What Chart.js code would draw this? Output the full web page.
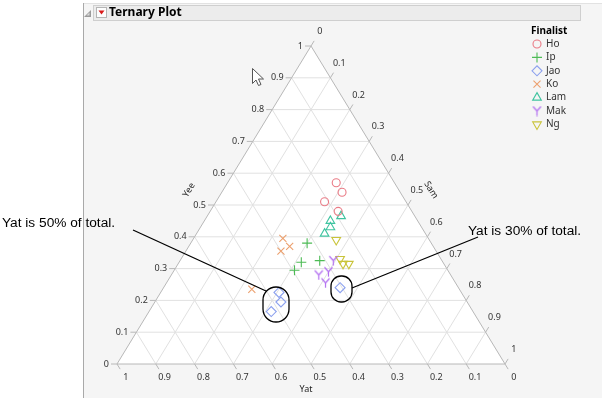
<!DOCTYPE html>
<html>
<head>
<meta charset="utf-8">
<script src="https://cdn.jsdelivr.net/npm/chart.js@4.4.1/dist/chart.umd.min.js"></script>
<style>
body{margin:0;background:#fff}
canvas{display:block}
</style>
</head>
<body>
<canvas id="ternary" width="602" height="398"></canvas>
<script>
// finalists and their marker colours
const finalists = ["Ho","Ip","Jao","Ko","Lam","Mak","Ng"];
const colors = ["#ea7b86","#4dbb55","#8ba0ee","#eca06e","#3fc4a0","#b26ef0","#c9c43a"];

// one row per judge score: who, and the Yee / Sam / Yat shares
const who = [
 "Ho","Ho","Ho","Ho",
 "Ip","Ip","Ip","Ip",
 "Jao","Jao","Jao","Jao",
 "Ko","Ko","Ko","Ko",
 "Lam","Lam","Lam","Lam",
 "Mak","Mak","Mak","Mak",
 "Ng","Ng","Ng","Ng"
];
const yeeVals = [0.57,0.54,0.51,0.48, 0.38,0.32,0.325,0.295, 0.225,0.195,0.165,0.24, 0.395,0.37,0.355,0.235, 0.465,0.45,0.43,0.41, 0.325,0.28,0.29,0.255, 0.39,0.33,0.315,0.315];
const samVals = [0.28,0.31,0.28,0.33, 0.30,0.315,0.36,0.31, 0.305,0.325,0.315,0.455, 0.23,0.26,0.245,0.23, 0.345,0.325,0.335,0.33, 0.395,0.38,0.40,0.41, 0.37,0.41,0.425,0.44];
const yatVals = [0.15,0.15,0.21,0.19, 0.32,0.365,0.315,0.395, 0.47,0.48,0.52,0.305, 0.375,0.37,0.40,0.535, 0.19,0.225,0.235,0.26, 0.28,0.34,0.31,0.335, 0.24,0.26,0.26,0.245];

const tickLabels = ["0","0.1","0.2","0.3","0.4","0.5","0.6","0.7","0.8","0.9","1"];

// ternary -> plane: x runs along base, y is Yee
function toXY(a, b, c){
  const s = a + b + c;
  return {x: (b + a/2)/s, y: a/s};
}

// Mak uses a "Y" marker
function makeY(color){
  const c = document.createElement("canvas");
  c.width = 11; c.height = 11;
  const g = c.getContext("2d");
  g.strokeStyle = color; g.lineWidth = 1.2;
  g.beginPath();
  g.moveTo(1.5,1); g.lineTo(5.5,5.5); g.lineTo(9.5,1);
  g.moveTo(5.5,5.5); g.lineTo(5.5,10.5);
  g.stroke();
  return c;
}

const styles = {
  Ho: {pointStyle:"circle", radius:4, rotation:0},
  Ip: {pointStyle:"cross", radius:5, rotation:0},
  Jao:{pointStyle:"rectRot", radius:5, rotation:0},
  Ko: {pointStyle:"crossRot", radius:5, rotation:0},
  Lam:{pointStyle:"triangle", radius:5, rotation:0},
  Mak:{pointStyle:makeY(colors[5]), radius:5, rotation:0},
  Ng: {pointStyle:"triangle", radius:5, rotation:180}
};

const datasets = finalists.map(function(f, k){
  const pts = [];
  for(let i=0;i<who.length;i++){
    if(who[i] === f) pts.push(toXY(yeeVals[i], samVals[i], yatVals[i]));
  }
  return {
    label: f,
    data: pts,
    borderColor: colors[k],
    backgroundColor: "rgba(0,0,0,0)",
    borderWidth: 1.1,
    pointStyle: styles[f].pointStyle,
    pointRadius: styles[f].radius,
    pointRotation: styles[f].rotation,
    pointHoverRadius: styles[f].radius
  };
});

const FONT = '"Noto Sans", "DejaVu Sans", sans-serif';

const ternaryFrame = {
  id: "ternaryFrame",
  beforeDraw(chart){
    const ctx = chart.ctx;
    const xs = chart.scales.x, ys = chart.scales.y;
    function P(a, b){ return [xs.getPixelForValue(b + a/2), ys.getPixelForValue(a)]; }

    ctx.save();
    // panel
    ctx.fillStyle = "#fff";
    ctx.fillRect(0,0,602,398);
    ctx.fillStyle = "#f5f5f5";
    ctx.fillRect(84,3,518,395);
    ctx.strokeStyle = "#a9a9a9"; ctx.lineWidth = 1;
    ctx.beginPath(); ctx.moveTo(83.5,3); ctx.lineTo(83.5,398); ctx.stroke();
    ctx.strokeStyle = "#e2e2e2";
    ctx.beginPath(); ctx.moveTo(84,3.5); ctx.lineTo(602,3.5); ctx.stroke();

    // header
    ctx.fillStyle = "#ececec";
    ctx.fillRect(93,5,488,16);
    ctx.strokeStyle = "#cfcfcf";
    ctx.strokeRect(93.5,5.5,487,15);
    ctx.fillStyle = "#9a9a9a";
    ctx.beginPath(); ctx.moveTo(91,10); ctx.lineTo(91,17); ctx.lineTo(84,17); ctx.closePath(); ctx.fill();
    ctx.fillStyle = "#dcdcdc";
    ctx.beginPath(); ctx.moveTo(89.5,12.5); ctx.lineTo(89.5,15.5); ctx.lineTo(86.5,15.5); ctx.closePath(); ctx.fill();
    ctx.fillStyle = "#fdfdfd"; ctx.strokeStyle = "#b5b5b5";
    ctx.fillRect(96.5,7.5,10,10); ctx.strokeRect(96.5,7.5,10,10);
    ctx.fillStyle = "#d91a1a";
    ctx.beginPath(); ctx.moveTo(98.5,10.5); ctx.lineTo(104.5,10.5); ctx.lineTo(101.5,14.5); ctx.closePath(); ctx.fill();
    ctx.fillStyle = "#000";
    ctx.font = "bold 12px " + FONT;
    ctx.textBaseline = "middle"; ctx.textAlign = "left";
    ctx.fillText("Ternary Plot", 109, 13);

    // triangle
    const top = P(1,0), left = P(0,0), right = P(0,1);
    ctx.fillStyle = "#fff";
    ctx.beginPath(); ctx.moveTo(top[0],top[1]); ctx.lineTo(left[0],left[1]); ctx.lineTo(right[0],right[1]); ctx.closePath(); ctx.fill();

    ctx.strokeStyle = "#e1e1e1"; ctx.lineWidth = 1;
    for(let i=1;i<10;i++){
      const v = i/10;
      let p, q;
      ctx.beginPath();
      p = P(v,0); q = P(v,1-v); ctx.moveTo(p[0],p[1]); ctx.lineTo(q[0],q[1]);
      p = P(0,v); q = P(1-v,v); ctx.moveTo(p[0],p[1]); ctx.lineTo(q[0],q[1]);
      p = P(0,1-v); q = P(1-v,0); ctx.moveTo(p[0],p[1]); ctx.lineTo(q[0],q[1]);
      ctx.stroke();
    }
    ctx.strokeStyle = "#b8b8b8";
    ctx.beginPath(); ctx.moveTo(top[0],top[1]); ctx.lineTo(left[0],left[1]); ctx.lineTo(right[0],right[1]); ctx.closePath(); ctx.stroke();

    // ticks and labels
    const dx = 0.521, dy = 0.854;
    ctx.fillStyle = "#333";
    ctx.font = "9px " + FONT;
    ctx.strokeStyle = "#b8b8b8";
    for(let i=0;i<=10;i++){
      const v = i/10;
      // Yee on left edge
      let p = P(v,0);
      ctx.beginPath(); ctx.moveTo(p[0],p[1]); ctx.lineTo(p[0]-6,p[1]); ctx.stroke();
      ctx.textAlign = "right";
      ctx.fillText(tickLabels[i], p[0]-8, p[1]);
      // Sam on right edge
      p = P(1-v,v);
      ctx.beginPath(); ctx.moveTo(p[0],p[1]); ctx.lineTo(p[0]+dx*6,p[1]-dy*6); ctx.stroke();
      ctx.textAlign = "center";
      ctx.fillText(tickLabels[i], p[0]+dx*17, p[1]-dy*17);
      // Yat on base
      p = P(0,1-v);
      ctx.beginPath(); ctx.moveTo(p[0],p[1]); ctx.lineTo(p[0]+dx*6,p[1]+dy*6); ctx.stroke();
      ctx.fillText(tickLabels[i], p[0]+dx*17, p[1]+dy*16);
    }

    // axis titles
    ctx.fillStyle = "#222";
    ctx.font = "9px " + FONT;
    ctx.textAlign = "center";
    ctx.save(); ctx.translate(189,190); ctx.rotate(-58.6*Math.PI/180); ctx.fillText("Yee",0,0); ctx.restore();
    ctx.save(); ctx.translate(431,190); ctx.rotate(58.6*Math.PI/180); ctx.fillText("Sam",0,0); ctx.restore();
    ctx.fillText("Yat", 306, 389);

    // legend
    ctx.textAlign = "left";
    ctx.font = "bold 10px " + FONT;
    ctx.fillStyle = "#000";
    ctx.fillText("Finalist", 531, 31);
    ctx.font = "10px " + FONT;
    finalists.forEach(function(f, k){
      const y = 44 + k*13.4;
      const st = styles[f];
      ctx.fillStyle = "rgba(0,0,0,0)";
      ctx.strokeStyle = colors[k]; ctx.lineWidth = 1.1;
      Chart.helpers.drawPoint(ctx, {pointStyle: st.pointStyle, radius: st.radius, rotation: st.rotation, borderWidth: 1.1}, 537, y);
      ctx.fillStyle = "#333";
      ctx.fillText(f, 546, y);
    });
    ctx.restore();
  },
  afterDatasetsDraw(chart){
    const ctx = chart.ctx;
    ctx.save();
    // mouse pointer left in the screenshot
    ctx.fillStyle = "#fff"; ctx.strokeStyle = "#555"; ctx.lineWidth = 1;
    ctx.beginPath();
    ctx.moveTo(252.5,68.5); ctx.lineTo(252.5,83.5); ctx.lineTo(256,80); ctx.lineTo(258.5,85.5);
    ctx.lineTo(261,84.5); ctx.lineTo(258.5,79); ctx.lineTo(263.5,79); ctx.closePath();
    ctx.fill(); ctx.stroke();

    // call-outs
    ctx.strokeStyle = "#000"; ctx.lineWidth = 1.3;
    ctx.beginPath(); ctx.moveTo(133,230); ctx.lineTo(266,291); ctx.stroke();
    ctx.beginPath(); ctx.moveTo(352,288); ctx.lineTo(478,237); ctx.stroke();
    ctx.beginPath(); ctx.roundRect(263,287,26,35,13); ctx.stroke();
    ctx.beginPath(); ctx.roundRect(331,276,21,26,10); ctx.stroke();
    ctx.fillStyle = "#000";
    ctx.font = '13.7px "Liberation Sans", Arial, sans-serif';
    ctx.textAlign = "left"; ctx.textBaseline = "middle";
    ctx.fillText("Yat is 50% of total.", 2, 223);
    ctx.fillText("Yat is 30% of total.", 468, 231);
    ctx.restore();
  }
};

new Chart(document.getElementById("ternary"), {
  type: "scatter",
  data: {datasets: datasets},
  options: {
    responsive: false,
    animation: false,
    layout: {padding: {left:117, right:97, top:46, bottom:34}},
    scales: {
      x: {type:"linear", min:0, max:1, display:false},
      y: {type:"linear", min:0, max:1, display:false}
    },
    plugins: {legend:{display:false}, tooltip:{enabled:false}},
    elements: {point:{hitRadius:0}}
  },
  plugins: [ternaryFrame]
});
</script>
</body>
</html>
